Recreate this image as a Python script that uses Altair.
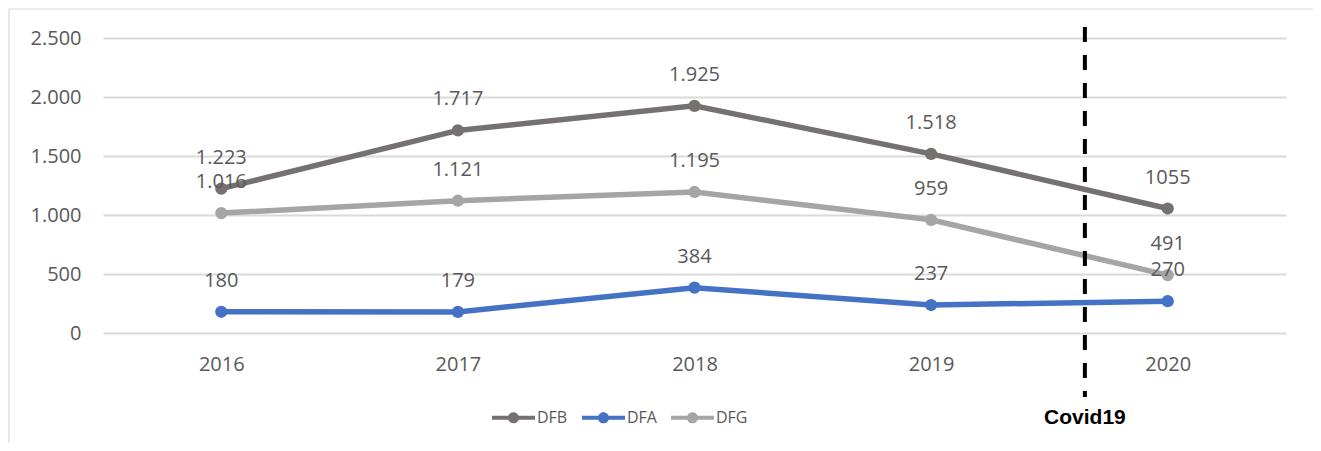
import altair as alt
import pandas as pd

years = [2016, 2017, 2018, 2019, 2020]
series = ["DFB", "DFA", "DFG"]
dfb_values = [1223, 1717, 1925, 1518, 1055]
dfa_values = [180, 179, 384, 237, 270]
dfg_values = [1016, 1121, 1195, 959, 491]
dfb_labels = ["1.223", "1.717", "1.925", "1.518", "1055"]
dfa_labels = ["180", "179", "384", "237", "270"]
dfg_labels = ["1.016", "1.121", "1.195", "959", "491"]
colors = ["#767171", "#4472C4", "#A5A5A5"]
y_ticks = [0, 500, 1000, 1500, 2000, 2500]
covid_year = [2019.65]
covid_label = ["Covid19"]

rows = []
for name, vals, labs in [("DFB", dfb_values, dfb_labels),
                         ("DFA", dfa_values, dfa_labels),
                         ("DFG", dfg_values, dfg_labels)]:
    for yr, v, lab in zip(years, vals, labs):
        rows.append({"year": yr, "series": name, "value": v, "label": lab,
                     "order": series.index(name)})
df = pd.DataFrame(rows)
covid_df = pd.DataFrame({"year": covid_year, "label": covid_label})

W, H = 1183, 295
FONT = "Open Sans"
GRAY = "#595959"

x_scale = alt.Scale(domain=[2015.5, 2020.5], nice=False, zero=False)
y_scale = alt.Scale(domain=[0, 2500], nice=False)
color_scale = alt.Scale(domain=series, range=colors)

base = alt.Chart(df)

x_enc = alt.X("year:Q", scale=x_scale, title=None,
              axis=alt.Axis(values=years, format="d", grid=False, domain=False,
                            ticks=False, labelPadding=21, labelFontSize=20,
                            labelColor=GRAY, labelFont=FONT))
y_enc = alt.Y("value:Q", scale=y_scale, title=None,
              axis=alt.Axis(values=y_ticks, domain=False, ticks=False,
                            labelExpr="replace(format(datum.value, ','), ',', '.')",
                            labelPadding=22, labelFontSize=20, labelColor=GRAY,
                            labelFont=FONT, gridColor="#D9D9D9", gridWidth=1.8))

legend_path = ("M-1,-0.09 H1 V0.09 H-1 Z "
               "M0.26,0 A0.26,0.26 0 1,1 -0.26,0 A0.26,0.26 0 1,1 0.26,0 Z")
legend = alt.Legend(title=None, orient="none", direction="horizontal",
                    legendX=389, legendY=358,
                    symbolType=legend_path, symbolSize=1849,
                    symbolStrokeWidth=0, symbolOpacity=1,
                    labelFont=FONT, labelFontSize=16,
                    labelColor=GRAY, labelOffset=2,
                    columnPadding=14)
color_enc = alt.Color("series:N", scale=color_scale, sort=series, legend=legend)

frame = alt.Chart(covid_df).mark_rect(fill=None, stroke="#D9D9D9", strokeWidth=1.2).encode(
    x=alt.value(-94), x2=alt.value(1213), y=alt.value(-29), y2=alt.value(600))

lines = base.mark_line(strokeWidth=5.5).encode(
    x=x_enc, y=y_enc,
    color=color_enc,
    detail="series:N",
    order="year:Q")

points = base.mark_point(filled=True, size=150, opacity=1).encode(
    x="year:Q", y="value:Q",
    color=color_enc)

labels = base.mark_text(dy=-31, font=FONT, fontSize=20, color=GRAY).encode(
    x="year:Q", y="value:Q", text="label:N")

covid_rule = alt.Chart(covid_df).mark_rule(color="black", strokeWidth=4,
                                           strokeDash=[15, 13]).encode(
    x="year:Q", y=alt.value(-11), y2=alt.value(359))

covid_text = alt.Chart(covid_df).mark_text(font="Liberation Sans", fontWeight="bold",
                                           fontSize=21, color="black").encode(
    x="year:Q", y=alt.value(380), text="label:N")

chart = alt.layer(frame, lines, points, labels, covid_rule, covid_text).properties(
    width=W, height=H,
    autosize=alt.AutoSizeParams(type="none"),
    padding={"left": 95, "top": 30, "right": 27, "bottom": 110},
).configure_view(stroke=None)

chart.save("out.html", embed_options={"renderer": "svg", "actions": False})
